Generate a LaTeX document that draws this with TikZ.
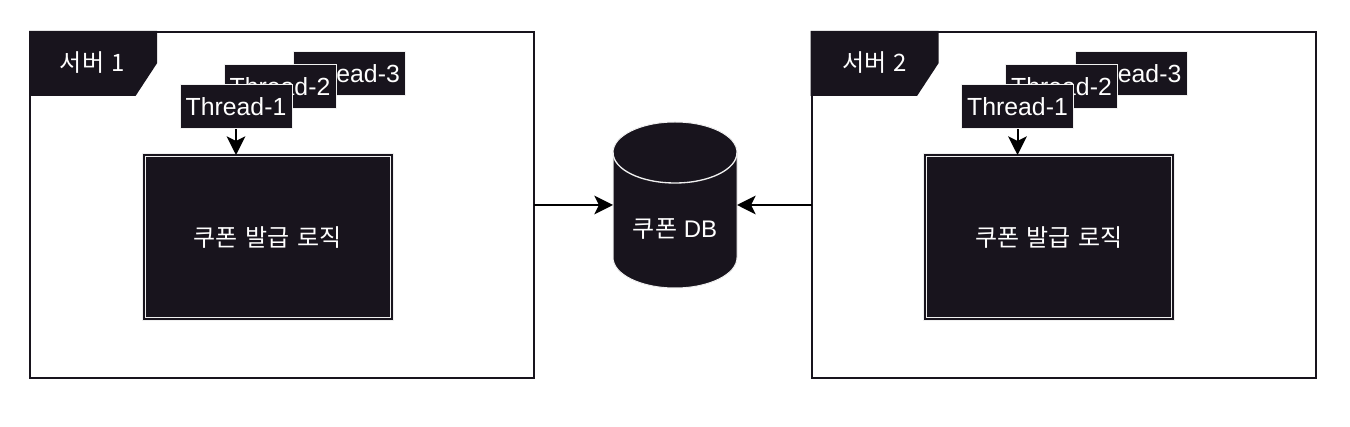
\documentclass[tikz,border=0pt]{standalone}
\usepackage{fontspec}
\usepackage{xcolor}
\usepackage{tikz}
\usetikzlibrary{arrows.meta}
\setmainfont{Liberation Sans}
\newfontfamily\krfont[WordSpace=1.4]{Noto Sans CJK KR}
\definecolor{darkfill}{HTML}{18141D}
\definecolor{lightline}{HTML}{F0F0F0}
\tikzset{
  serverbox/.style={draw=darkfill,line width=1.5pt,outer sep=0pt,fill=white,minimum width=378pt,minimum height=259.5pt},
  threadbox/.style={draw=lightline,line width=0.75pt,fill=darkfill,text=white,font=\fontsize{18.6}{22}\selectfont,minimum width=84pt,minimum height=33pt,inner sep=0pt},
  logicbox/.style={draw=lightline,double=darkfill,double distance=1.5pt,line width=0.75pt,fill=darkfill,text=white,font=\krfont\fontsize{18}{22}\selectfont,minimum width=186pt,minimum height=123pt,inner sep=0pt},
  tagshape/.style={draw=darkfill,line width=1.5pt,fill=darkfill},
  taglabel/.style={text=white,font=\krfont\fontsize{18}{22}\selectfont,inner sep=0pt},
  dbbox/.style={outer sep=0pt,inner sep=0pt,minimum width=93pt,minimum height=124.5pt},
  dbbody/.style={draw=lightline,line width=0.75pt,fill=darkfill},
  dbrim/.style={draw=lightline,line width=1pt},
  flow/.style={draw=black,line width=1.5pt,-{Stealth[length=14pt,width=14pt,inset=3.5pt]}},
}
\begin{document}
\begin{tikzpicture}[x=0.75pt,y=-0.75pt]
\useasboundingbox (0,0) rectangle (1350,427);

% left server
\node[serverbox] (server1) at (282,205) {};
\draw[tagshape] (server1.north west) -- ++(126,0) -- ++(0,31) -- ++(-21,32) -- ++(-105,0) -- cycle;
\node[taglabel] (tag1) at (92.5,63) {서버 1};
\node[threadbox] (thread13) at (349.5,74) {Thread-3};
\node[threadbox] (thread12) at (280,86.5) {Thread-2};
\node[threadbox] (thread11) at (236,107) {Thread-1};
\node[logicbox] (logic1) at (267.5,237.5) {쿠폰 발급 로직};
\draw[flow] (thread11.south) -- (thread11.south |- logic1.north);

% right server
\node[serverbox] (server2) at (1063.5,205) {};
\draw[tagshape] (server2.north west) -- ++(126,0) -- ++(0,31) -- ++(-21,32) -- ++(-105,0) -- cycle;
\node[taglabel] (tag2) at (874.5,63) {서버 2};
\node[threadbox] (thread23) at (1131,74) {Thread-3};
\node[threadbox] (thread22) at (1061.5,86.5) {Thread-2};
\node[threadbox] (thread21) at (1017.5,107) {Thread-1};
\node[logicbox] (logic2) at (1049,237.5) {쿠폰 발급 로직};
\draw[flow] (thread21.south) -- (thread21.south |- logic2.north);

% database
\node[dbbox] (db) at (675,205) {};
\draw[dbbody] (db.north west) ++(0,30.5) arc[start angle=180,end angle=360,x radius=62,y radius=30.5] -- ++(0,105) arc[start angle=0,end angle=180,x radius=62,y radius=30.5] -- cycle;
\draw[dbrim] (db.north west) ++(0,30.5) arc[start angle=180,end angle=0,x radius=62,y radius=30.5];
\node[text=white,font=\fontsize{18}{22}\selectfont,inner sep=0pt] (dblabel) at (675,229) {{\krfont 쿠폰} DB};
\draw[flow] (server1.east) -- (db.west);
\draw[flow] (server2.west) -- (db.east);
\end{tikzpicture}
\end{document}
